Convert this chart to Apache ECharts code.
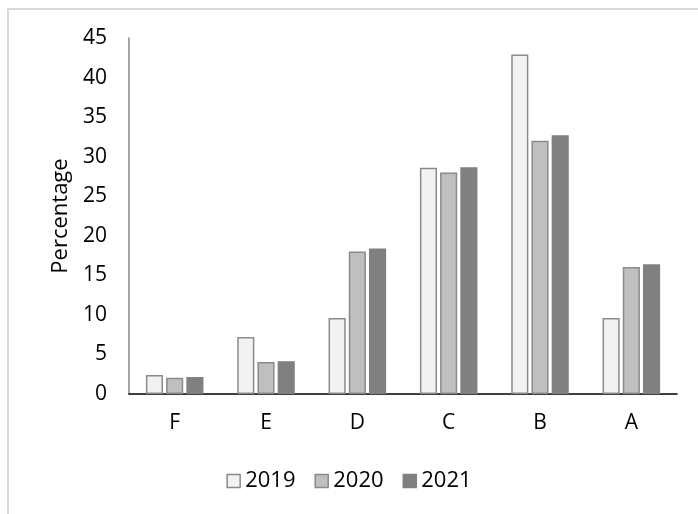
<!DOCTYPE html>
<html>
<head>
<meta charset="utf-8">
<script src="https://cdn.jsdelivr.net/npm/echarts@6/dist/echarts.min.js"></script>
<style>
  html, body { margin: 0; padding: 0; background: #fff; }
  #chart { width: 698px; height: 514px; }
</style>
</head>
<body>
<div id="chart"></div>
<script>
// grades, left to right
const categories = ['F', 'E', 'D', 'C', 'B', 'A'];
const years = ['2019', '2020', '2021'];

// percentage per grade
const values2019 = [2.4, 7.2, 9.6, 28.6, 42.9, 9.6];
const values2020 = [2.05, 4.05, 18.0, 28.0, 32.0, 16.05];
const values2021 = [2.15, 4.15, 18.4, 28.65, 32.7, 16.4];

const yTicks = [0, 5, 10, 15, 20, 25, 30, 35, 40, 45];

const fills = ['#f2f2f2', '#bfbfbf', '#808080'];
const borders = ['#8a8a8a', '#8a8a8a', '#808080'];
const font = '"Open Sans", "Noto Sans", sans-serif';

const chart = echarts.init(document.getElementById('chart'));

function barSeries(name, data, i) {
    return {
        name: name,
        type: 'bar',
        data: data,
        barGap: '18%',
        barCategoryGap: '37%',
        itemStyle: { color: fills[i], borderColor: borders[i], borderWidth: 1.5 },
        emphasis: { disabled: true }
    };
}

chart.setOption({
    animation: false,
    backgroundColor: '#fff',
    graphic: [{
        type: 'rect',
        shape: { x: 8, y: 9, width: 720, height: 540 },
        style: { fill: 'none', stroke: '#d9d9d9', lineWidth: 2 },
        silent: true
    }],
    grid: { left: 129, right: 21, top: 38, bottom: 120 },
    legend: {
        data: years.map((y, i) => ({
            name: y,
            itemStyle: { color: fills[i], borderColor: borders[i], borderWidth: 1.5 }
        })),
        bottom: 17,
        left: 'center',
        itemWidth: 13,
        itemHeight: 13,
        itemGap: 19,
        icon: 'rect',
        textStyle: { fontFamily: font, fontSize: 22, color: '#000' }
    },
    xAxis: {
        type: 'category',
        data: categories,
        axisLine: { lineStyle: { color: '#000', width: 1.5 } },
        axisTick: { show: false },
        axisLabel: { fontFamily: font, fontSize: 21, color: '#000', margin: 19 }
    },
    yAxis: {
        type: 'value',
        min: yTicks[0],
        max: yTicks[yTicks.length - 1],
        interval: 5,
        name: 'Percentage',
        nameLocation: 'middle',
        nameGap: 56,
        nameTextStyle: { fontFamily: font, fontSize: 22, color: '#000' },
        axisLine: { show: true, lineStyle: { color: '#868686', width: 1.5 } },
        axisTick: { show: false },
        splitLine: { show: false },
        axisLabel: { fontFamily: font, fontSize: 21, color: '#000', margin: 22 }
    },
    series: [
        barSeries(years[0], values2019, 0),
        barSeries(years[1], values2020, 1),
        barSeries(years[2], values2021, 2)
    ]
});
</script>
</body>
</html>
